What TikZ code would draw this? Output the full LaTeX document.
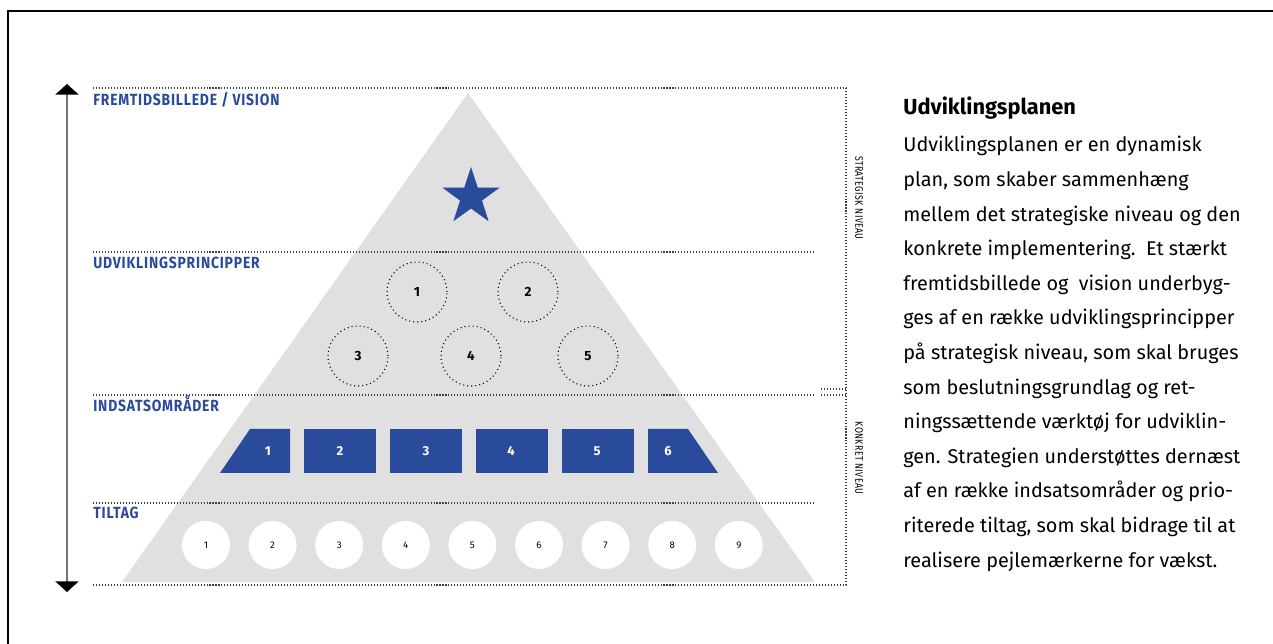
\documentclass[tikz,border=0pt]{standalone}
\usepackage{fontspec}
\setmainfont{Fira Sans}
\newfontfamily\condfont[FakeStretch=0.86,LetterSpace=5]{Fira Sans}
\newfontfamily\sidefont[FakeStretch=0.8,LetterSpace=4]{Fira Sans}
\usetikzlibrary{arrows.meta,shapes.geometric,positioning}
\definecolor{planblue}{HTML}{2A4A9B}
\definecolor{pyrgray}{HTML}{E0E0E0}

\begin{document}
\begin{tikzpicture}[x=0.02cm,y=-0.02cm,
        level label/.style={anchor=base west,inner sep=0pt,text=planblue,
            font=\condfont\bfseries\fontsize{9.2}{10}\selectfont},
        guide/.style={draw=black!75,line width=0.6pt,dash pattern=on 0.6pt off 1.1pt},
        principle/.style={circle,draw=black,line width=0.6pt,dash pattern=on 0.6pt off 1.7pt,
            minimum size=1.2cm,inner sep=0pt,font=\bfseries\fontsize{7.6}{8}\selectfont},
        area/.style={fill=planblue,draw=none},
        area label/.style={text=white,font=\bfseries\fontsize{7.4}{8}\selectfont},
        measure/.style={circle,fill=white,minimum size=0.96cm,inner sep=0pt,
            font=\fontsize{5.5}{6}\selectfont},
        side label/.style={rotate=-90,inner sep=0pt,font=\sidefont\fontsize{6.2}{7}\selectfont}]

    \useasboundingbox (0,0) rectangle (1273,644);

    % frame
    \draw[line width=0.8pt] (8,644) -- (8,11) -- (1273,11);

    % pyramid
    \coordinate (apex) at (468,93);
    \coordinate (baseL) at (122,582);
    \coordinate (baseR) at (815,582);
    \fill[pyrgray] (apex) -- (baseL) -- (baseR) -- cycle;

    % guide lines
    \draw[guide] (93,88) -- (846,88);
    \draw[guide] (93,252) -- (815,252);
    \draw[guide] (93,395) -- (815,395);
    \draw[guide] (93,503) -- (815,503);
    \draw[guide] (93,585) -- (846,585);
    \draw[guide] (821,389) -- (846,389);
    \draw[guide] (821,395) -- (846,395);
    \draw[guide] (846,88) -- (846,585);

    % level arrow
    \coordinate (arrtop) at (67,84);
    \coordinate (arrbot) at (67,592);
    \draw[black!55,line width=1.2pt,
        {Triangle[width=13pt,length=6pt,color=black]}-{Triangle[width=13pt,length=6pt,color=black]}]
        (arrtop) -- (arrbot);

    % level names
    \node[level label] (vision) at (93,106) {FREMTIDSBILLEDE / VISION};
    \node[level label] (princ) at (93,269) {UDVIKLINGSPRINCIPPER};
    \node[level label] (areas) at (93,412) {INDSATSOMRÅDER};
    \node[level label] (tiltag) at (93,518) {TILTAG};

    \node[side label] (strat) at (859,198) {STRATEGISK NIVEAU};
    \node[side label] (konk) at (859,458) {KONKRET NIVEAU};

    % vision
    \node[star,star points=5,star point ratio=2.6,fill=planblue,minimum size=1.2cm,inner sep=0pt]
        (star) at (471,197) {};

    % principles
    \node[principle] (p1) at (417,292) {1};
    \node[principle] (p2) at (528,292) {2};
    \node[principle] (p3) at (358,356) {3};
    \node[principle] (p4) at (471,356) {4};
    \node[principle] (p5) at (588,356) {5};

    % areas
    \fill[area] (250,429) -- (290,429) -- (290,473) -- (220,473) -- cycle;
    \foreach \x in {304,390,476,562}
        \fill[area] (\x,429) rectangle ++(72,44);
    \fill[area] (648,429) -- (688,429) -- (718,473) -- (648,473) -- cycle;
    \foreach \x/\n in {268/1,340/2,426/3,511/4,597/5,668/6}
        \node[area label] (a\n) at (\x,451) {\n};

    % tiltag
    \foreach \n in {1,...,9}
        \node[measure] (t\n) at ({206+66.6*(\n-1)},545) {\n};

    % text
    \node[anchor=base west,inner sep=0pt,font=\bfseries\fontsize{12.4}{14}\selectfont]
        (title) at (903,115) {Udviklingsplanen};
    \node[anchor=north west,inner sep=0pt,align=left,font=\fontsize{11.3}{19.7}\selectfont]
        (body) at (903,136) {Udviklingsplanen er en dynamisk\\
        plan, som skaber sammenhæng\\
        mellem det strategiske niveau og den\\
        konkrete implementering.\ \ Et stærkt\\
        fremtidsbillede og\ \ vision underbyg-\\
        ges af en række udviklingsprincipper\\
        på strategisk niveau, som skal bruges\\
        som beslutningsgrundlag og ret-\\
        ningssættende værktøj for udviklin-\\
        gen. Strategien understøttes dernæst\\
        af en række indsatsområder og prio-\\
        riterede tiltag, som skal bidrage til at\\
        realisere pejlemærkerne for vækst.};
\end{tikzpicture}
\end{document}
